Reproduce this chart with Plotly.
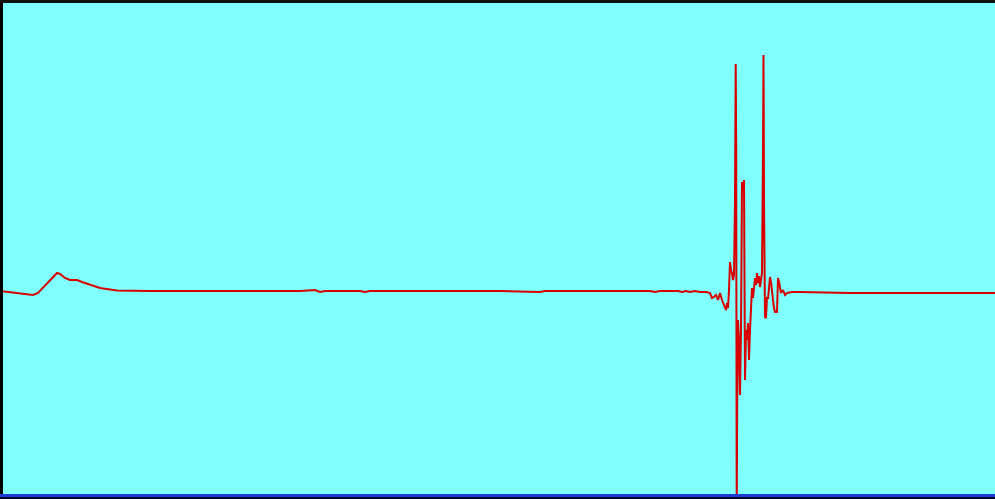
import plotly.graph_objects as go

# Sample positions and signal amplitude (baseline ~0, positive = up)
sample_x = [0, 10, 20, 33, 38, 45, 52, 57, 60, 65, 70, 77, 82, 90, 100, 110, 117, 150, 200, 250,
            300, 315, 320, 325, 360, 365, 370, 400, 450, 500, 540, 545, 600, 650, 655, 660, 670,
            678, 682, 686, 690, 695, 700, 706, 710, 712, 714, 716, 718, 720, 722, 724, 726, 727,
            728, 729, 730, 731, 732, 733, 734, 735, 735.7, 736.2, 736.7, 737.2, 738, 739, 740,
            741, 742, 743, 744, 744.5, 745, 746, 747, 748, 749, 750, 751, 752, 753, 754, 755,
            756, 757, 758, 759, 760, 761, 762, 763, 763.5, 764, 765, 766, 767, 768, 770, 771,
            772, 773, 774, 775, 777, 778, 779, 780, 781, 783, 785, 787, 792, 800, 850, 900, 950, 995]
sample_y = [291, 292, 293, 295, 293, 286, 278, 273, 274, 278, 280, 280, 282, 285, 288, 289.5, 290.5,
            291, 291, 291, 291, 290, 292, 291, 291, 292, 291, 291, 291, 291, 292, 291, 291, 291,
            292, 291, 291, 291, 292, 291, 292, 291, 292, 292, 293, 298, 297, 295, 300, 293, 300,
            305, 310, 303, 308, 290, 262, 270, 273, 280, 275, 200, 64, 150, 520, 400, 320, 340,
            395, 330, 182, 190, 180, 250, 380, 330, 340, 323, 360, 330, 307, 288, 298, 290, 278,
            285, 273, 283, 276, 287, 278, 273, 150, 55, 200, 317, 318, 297, 299, 277, 282, 295,
            300, 308, 312, 312, 278, 282, 290, 293, 290, 295, 293, 292, 292, 293, 293, 293, 293]
amplitude = [292 - v for v in sample_y]

fig = go.Figure()
fig.add_trace(go.Scatter(x=sample_x, y=amplitude, mode="lines",
                         line=dict(color="#D80000", width=2), hoverinfo="skip"))

W, H = 995, 499
fig.update_layout(
    width=W, height=H,
    margin=dict(l=0, r=0, t=0, b=0),
    paper_bgcolor="#80FFFF", plot_bgcolor="#80FFFF",
    showlegend=False,
    xaxis=dict(range=[0, 995], visible=False, fixedrange=True),
    yaxis=dict(range=[292 - 499, 292], visible=False, fixedrange=True),
    shapes=[
        dict(type="rect", xref="paper", yref="paper", x0=0, x1=3 / W, y0=0, y1=1,
             fillcolor="black", line=dict(width=0), layer="above"),
        dict(type="rect", xref="paper", yref="paper", x0=0, x1=1, y0=1 - 3 / H, y1=1,
             fillcolor="#111111", line=dict(width=0), layer="above"),
        dict(type="rect", xref="paper", yref="paper", x0=0, x1=1, y0=2 / H, y1=5 / H,
             fillcolor="#1A3FD0", line=dict(width=0), layer="above"),
        dict(type="rect", xref="paper", yref="paper", x0=0, x1=1, y0=0, y1=2 / H,
             fillcolor="#000033", line=dict(width=0), layer="above"),
    ],
)
fig.write_html("out.html", config={"displayModeBar": False},
               post_script="document.body.style.margin='0';document.body.style.overflow='hidden';")
